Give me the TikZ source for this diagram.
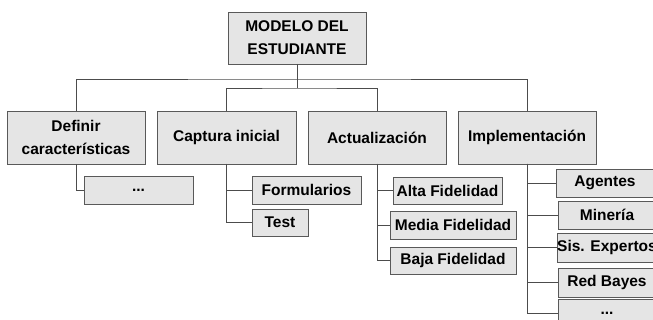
\documentclass[tikz,border=0pt]{standalone}
\usepackage{fontspec}
\setmainfont{Liberation Sans}
\begin{document}
\begin{tikzpicture}[x=1pt,y=-1pt,
    caja/.style={draw=black!65,fill=black!10,inner sep=0pt,outer sep=0pt,align=center,
      font=\fontsize{15.5}{23}\selectfont\bfseries},
    linea/.style={draw=black!70,line width=0.8pt}]
  \useasboundingbox (0,0) rectangle (653,320);
  % raiz y primer nivel
  \node[caja,minimum width=138,minimum height=52](raiz) at (297,38){MODELO DEL\\ESTUDIANTE};
  \node[caja,minimum width=138,minimum height=53](definir) at (76,137.5){Definir\\caracter\'isticas};
  \node[caja,minimum width=139,minimum height=53](captura) at (226.5,137.5){Captura inicial};
  \node[caja,minimum width=138,minimum height=53](actual) at (377,137.5){Actualizaci\'on};
  \node[caja,minimum width=138,minimum height=53](implem) at (527,137.5){Implementaci\'on};
  \coordinate(bus1) at (297,79);
  \coordinate(bus2) at (297,88);
  \draw[linea](raiz.south)--(bus2);
  \draw[linea](definir.north)|-(bus1)-|(implem.north);
  \draw[linea](captura.north)|-(bus2)-|(actual.north);
  % hijos
  \node[caja,minimum width=109,minimum height=28](puntos) at (138.5,190){...};
  \node[caja,minimum width=109,minimum height=28](form) at (306.5,190){Formularios};
  \node[caja,minimum width=56,minimum height=27](test) at (280,222.5){Test};
  \node[caja,minimum width=109,minimum height=27](alta) at (447.5,190.5){Alta Fidelidad};
  \node[caja,minimum width=126,minimum height=28](media) at (453,225){Media Fidelidad};
  \node[caja,minimum width=126,minimum height=27](baja) at (453,260.5){Baja Fidelidad};
  \node[caja,minimum width=98,minimum height=28](agentes) at (605,183){Agentes};
  \node[caja,minimum width=98,minimum height=28](mineria) at (607,215){Miner\'ia};
  \node[caja,minimum width=98,minimum height=29](expertos) at (607,247.5){Sis. Expertos};
  \node[caja,minimum width=98,minimum height=29](bayes) at (607,282.5){Red Bayes};
  \node[caja,minimum width=98,minimum height=28](puntosb) at (607,313){...};
  \draw[linea](definir.south)|-(puntos.west);
  \foreach \h in {form,test}{\draw[linea](captura.south)|-(\h.west);}
  \foreach \h in {alta,media,baja}{\draw[linea](actual.south)|-(\h.west);}
  \foreach \h in {agentes,mineria,expertos,bayes,puntosb}{\draw[linea](implem.south)|-(\h.west);}
\end{tikzpicture}
\end{document}
